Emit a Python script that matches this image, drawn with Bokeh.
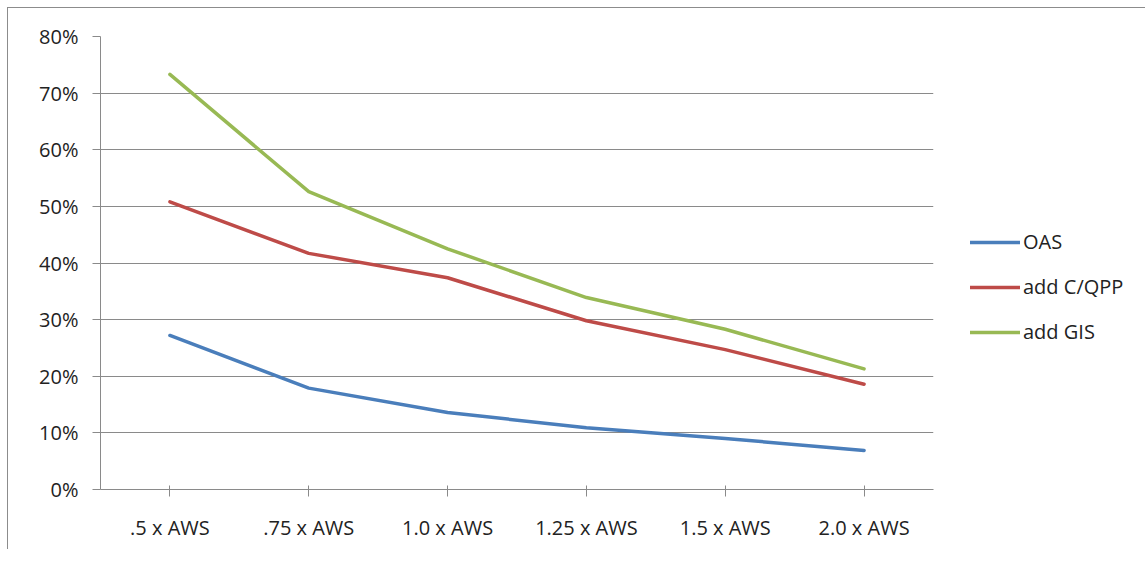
from bokeh.plotting import figure
from bokeh.models import Range1d, FactorRange, FixedTicker, NumeralTickFormatter, Legend, LegendItem
from bokeh.embed import file_html
from bokeh.resources import INLINE

categories = [".5 x AWS", ".75 x AWS", "1.0 x AWS", "1.25 x AWS", "1.5 x AWS", "2.0 x AWS"]
oas = [0.272, 0.179, 0.136, 0.109, 0.090, 0.069]
cqpp = [0.508, 0.417, 0.374, 0.298, 0.247, 0.186]
gis = [0.733, 0.526, 0.425, 0.339, 0.283, 0.213]
series_names = ["OAS", "add C/QPP", "add GIS"]
series_colors = ["#4A7EBB", "#BE4B48", "#98B954"]
y_ticks = [0.0, 0.1, 0.2, 0.3, 0.4, 0.5, 0.6, 0.7, 0.8]

FONT = "Open Sans"
GRID = "#8a8a8a"

p = figure(
    x_range=FactorRange(*categories),
    y_range=Range1d(0, 0.8),
    frame_width=833, frame_height=453,
    min_border_left=92, min_border_top=28, min_border_bottom=60, min_border_right=200,
    output_backend="svg", toolbar_location=None,
    styles={"border-left": "1px solid #8c8c8c", "border-top": "1px solid #8c8c8c",
            "margin-left": "7px", "margin-top": "7px"},
)
p.outline_line_color = None
p.xgrid.grid_line_color = None
p.ygrid.grid_line_color = GRID
p.ygrid.grid_line_width = 1

p.yaxis.ticker = FixedTicker(ticks=y_ticks)
p.yaxis.formatter = NumeralTickFormatter(format="0%")
p.yaxis.minor_tick_line_color = None
p.yaxis.major_tick_in = 0
p.yaxis.major_tick_out = 8
p.yaxis.major_label_standoff = 14
for ax in (p.xaxis[0], p.yaxis[0]):
    ax.axis_line_color = GRID
    ax.major_tick_line_color = GRID
    ax.major_label_text_font = FONT
    ax.major_label_text_font_size = "20px"
    ax.major_label_text_color = "#222222"
p.xaxis.major_tick_in = 4
p.xaxis.major_tick_out = 7
p.xaxis.major_label_standoff = 17

renderers = []
for name, vals, col in zip(series_names, [oas, cqpp, gis], series_colors):
    r = p.line(categories, vals, line_color=col, line_width=3.5,
               line_join="round", line_cap="round")
    renderers.append((name, r))

legend = Legend(
    items=[LegendItem(label=n, renderers=[r]) for n, r in renderers],
    location=(37, 144),
    glyph_width=50, glyph_height=20, label_height=20, spacing=18,
    label_standoff=3, padding=0, margin=0,
    border_line_color=None, background_fill_alpha=0,
    label_text_font=FONT, label_text_font_size="20px", label_text_color="#222222",
)
p.add_layout(legend, "right")

open("out.html", "w").write(file_html(p, INLINE))
